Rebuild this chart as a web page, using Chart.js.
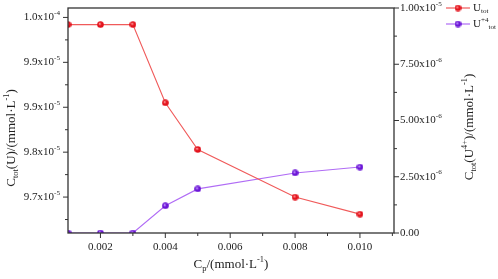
<!DOCTYPE html>
<html><head><meta charset="utf-8">
<script src="https://cdn.jsdelivr.net/npm/chart.js@4/dist/chart.umd.min.js"></script>
<style>html,body{margin:0;padding:0;background:#fff}#wrap{width:498px;height:279px}</style>
</head><body><div id="wrap"><canvas id="c"></canvas></div>
<script>
const xValues = [0.001, 0.002, 0.003, 0.004, 0.005, 0.008, 0.010];
const uTot = [9.992e-5, 9.992e-5, 9.992e-5, 9.905e-5, 9.853e-5, 9.800e-5, 9.781e-5];
const u4Tot = [0, 0, 0, 1.21e-6, 1.96e-6, 2.67e-6, 2.93e-6];
const leftTickValues = [1.0e-4, 9.95e-5, 9.9e-5, 9.85e-5, 9.8e-5];
const leftTickLabels = [["1.0x10","-4"],["9.9x10","-5"],["9.9x10","-5"],["9.8x10","-5"],["9.7x10","-5"]];
const rightTickValues = [1.0e-5, 7.5e-6, 5.0e-6, 2.5e-6, 0];
const rightTickLabels = [["1.00x10","-5"],["7.50x10","-6"],["5.00x10","-6"],["2.50x10","-6"],["0.00",""]];
const xTickValues = [0.002, 0.004, 0.006, 0.008, 0.010];
const xTickLabels = ["0.002","0.004","0.006","0.008","0.010"];
const seriesNames = ["U_tot", "U+4_tot"];

const FONT = '"Liberation Serif", "Times New Roman", serif';

function sphere(color, hi){
  const c = document.createElement('canvas'); c.width = 7; c.height = 7;
  const g = c.getContext('2d');
  const grd = g.createRadialGradient(2.6,2.6,0.3,3.5,3.5,3.5);
  grd.addColorStop(0, hi); grd.addColorStop(0.45, color); grd.addColorStop(1, color);
  g.fillStyle = grd; g.beginPath(); g.arc(3.5,3.5,3.3,0,Math.PI*2); g.fill();
  return c;
}
const redPt = sphere('#e3121c', '#ff9a9a');
const purPt = sphere('#6a14d6', '#c9a0ff');

function richWidth(ctx, parts, size){
  let w = 0;
  for (const [t,m] of parts){ ctx.font = (m? size*0.65: size)+'px '+FONT; w += ctx.measureText(t).width; }
  return w;
}
function drawRich(ctx, parts, x, y, size, color){
  ctx.fillStyle = color; ctx.textBaseline = 'middle'; ctx.textAlign = 'left';
  for (const [t,m] of parts){
    const s = m? size*0.65 : size;
    ctx.font = s+'px '+FONT;
    const dy = m===1 ? -size*0.38 : (m===-1 ? size*0.3 : 0);
    ctx.fillText(t, x, y+dy);
    x += ctx.measureText(t).width;
  }
}

const deco = {
  id: 'deco',
  afterDraw(chart){
    const ctx = chart.ctx, a = chart.chartArea;
    const xs = chart.scales.x, yl = chart.scales.y, yr = chart.scales.y1;
    ctx.save();
    ctx.strokeStyle = '#333'; ctx.lineWidth = 1.3;
    ctx.strokeRect(a.left, a.top, a.right-a.left, a.bottom-a.top);
    ctx.lineWidth = 1;
    const lMin = [9.975e-5, 9.925e-5, 9.875e-5, 9.825e-5, 9.775e-5];
    for (const v of leftTickValues){ const p = yl.getPixelForValue(v); ctx.beginPath(); ctx.moveTo(a.left-5,p); ctx.lineTo(a.left,p); ctx.stroke(); }
    for (const v of lMin){ const p = yl.getPixelForValue(v); ctx.beginPath(); ctx.moveTo(a.left-3,p); ctx.lineTo(a.left,p); ctx.stroke(); }
    const rMin = [8.75e-6, 6.25e-6, 3.75e-6, 1.25e-6];
    for (const v of rightTickValues){ const p = yr.getPixelForValue(v); ctx.beginPath(); ctx.moveTo(a.right,p); ctx.lineTo(a.right+5,p); ctx.stroke(); }
    for (const v of rMin){ const p = yr.getPixelForValue(v); ctx.beginPath(); ctx.moveTo(a.right,p); ctx.lineTo(a.right+3,p); ctx.stroke(); }
    const xMin = [0.003, 0.005, 0.007, 0.009, 0.011];
    for (const v of xTickValues){ const p = xs.getPixelForValue(v); ctx.beginPath(); ctx.moveTo(p,a.bottom); ctx.lineTo(p,a.bottom+5); ctx.stroke(); }
    for (const v of xMin){ const p = xs.getPixelForValue(v); ctx.beginPath(); ctx.moveTo(p,a.bottom); ctx.lineTo(p,a.bottom+3); ctx.stroke(); }
    const size = 11, col = '#222';
    leftTickValues.forEach((v,i)=>{
      const parts = [[leftTickLabels[i][0],0],[leftTickLabels[i][1],1]];
      const w = richWidth(ctx, parts, size);
      drawRich(ctx, parts, a.left-8-w, yl.getPixelForValue(v), size, col);
    });
    rightTickValues.forEach((v,i)=>{
      const parts = [[rightTickLabels[i][0],0],[rightTickLabels[i][1],1]];
      drawRich(ctx, parts, a.right+6, yr.getPixelForValue(v), size, col);
    });
    ctx.font = size+'px '+FONT; ctx.textAlign='center'; ctx.textBaseline='middle'; ctx.fillStyle = col;
    xTickValues.forEach((v,i)=>{ ctx.fillText(xTickLabels[i], xs.getPixelForValue(v), a.bottom+14); });
    const ts = 13;
    const xt = [["C",0],["p",-1],["/(mmol·L",0],["-1",1],[")",0]];
    let w = richWidth(ctx, xt, ts);
    drawRich(ctx, xt, 231 - w/2, 265, ts, col);
    const lt = [["C",0],["tot",-1],["(U)/(mmol·L",0],["-1",1],[")",0]];
    w = richWidth(ctx, lt, ts);
    ctx.save(); ctx.translate(12, 138); ctx.rotate(-Math.PI/2); drawRich(ctx, lt, -w/2, 0, ts, col); ctx.restore();
    const rt = [["C",0],["tot",-1],["(U",0],["4+",1],[")/(mmol·L",0],["-1",1],[")",0]];
    w = richWidth(ctx, rt, ts);
    ctx.save(); ctx.translate(470, 127); ctx.rotate(-Math.PI/2); drawRich(ctx, rt, -w/2, 0, ts, col); ctx.restore();
    const leg = [
      {y: 8, line: '#f05a5a', pt: redPt, parts: [["U",0],["tot",-1]]},
      {y: 24, line: '#b06cf5', pt: purPt, parts: [["U",0],["+4",1],["tot",-1]]}
    ];
    for (const L of leg){
      ctx.strokeStyle = L.line; ctx.lineWidth = 1.2;
      ctx.beginPath(); ctx.moveTo(446, L.y); ctx.lineTo(470, L.y); ctx.stroke();
      ctx.drawImage(L.pt, 454.5, L.y-3.5);
      drawRich(ctx, L.parts, 473, L.y, 11, col);
    }
    ctx.restore();
  }
};

new Chart(document.getElementById('c'), {
  type: 'line',
  data: {
    datasets: [
      { label: seriesNames[0], data: xValues.map((x,i)=>({x, y: uTot[i]})), yAxisID: 'y',
        borderColor: '#f05a5a', borderWidth: 1.1, pointStyle: redPt, pointRadius: 3.5, tension: 0 },
      { label: seriesNames[1], data: xValues.map((x,i)=>({x, y: u4Tot[i]})), yAxisID: 'y1',
        borderColor: '#b06cf5', borderWidth: 1.1, pointStyle: purPt, pointRadius: 3.5, tension: 0 }
    ]
  },
  options: {
    responsive: true, maintainAspectRatio: false, animation: false,
    layout: { padding: { top: 8, left: 0, right: 0, bottom: 0 } },
    plugins: { legend: { display: false }, tooltip: { enabled: false } },
    scales: {
      x: { type: 'linear', min: 0.001, max: 0.01105, grid: { display: false }, border: { display: false },
           ticks: { display: false }, afterFit(s){ s.height = 46; } },
      y: { position: 'left', min: 9.760e-5, max: 1.00105e-4, grid: { display: false }, border: { display: false },
           ticks: { display: false }, afterFit(s){ s.width = 68; } },
      y1: { position: 'right', min: 0, max: 1.0e-5, grid: { display: false }, border: { display: false },
           ticks: { display: false }, afterFit(s){ s.width = 104; } }
    }
  },
  plugins: [deco]
});
</script></body></html>
